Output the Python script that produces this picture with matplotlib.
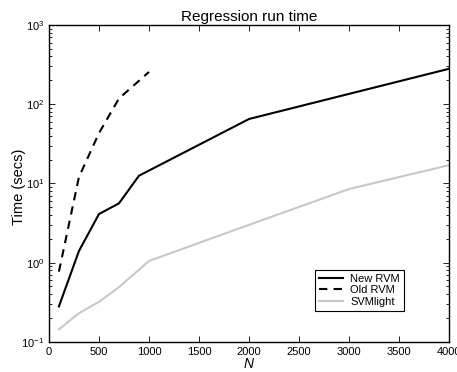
import matplotlib

matplotlib.use("Agg")
import matplotlib.pyplot as plt  # noqa: E402
from matplotlib.ticker import LogLocator, NullFormatter, MultipleLocator  # noqa: E402

plt.rcParams["font.family"] = ["Liberation Sans", "DejaVu Sans"]
plt.rcParams["mathtext.fontset"] = "custom"
plt.rcParams["mathtext.rm"] = "Liberation Sans"
plt.rcParams["mathtext.it"] = "Liberation Sans:italic"

new_n = [100, 300, 500, 700, 900, 2000, 4000]
new_t = [0.28, 1.4, 4.1, 5.6, 12.5, 65, 280]

old_n = [100, 300, 500, 700, 1000]
old_t = [0.77, 12, 43, 118, 255]

svm_n = [100, 300, 500, 700, 1000, 2000, 3000, 4000]
svm_t = [0.144, 0.23, 0.32, 0.49, 1.05, 3.0, 8.5, 17]

fig = plt.figure(figsize=(4.57, 3.72), dpi=100)
ax = fig.add_axes([0.107, 0.081, 0.876, 0.852])

ax.plot(new_n, new_t, color="black", linewidth=1.5, label="New RVM")
ax.plot(old_n, old_t, color="black", linewidth=1.5, linestyle=(0, (4, 3)), label="Old RVM")
ax.plot(svm_n, svm_t, color="#c8c8c8", linewidth=1.5, label="SVMlight")

ax.set_yscale("log")
ax.set_xlim(0, 4000)
ax.set_ylim(0.1, 1000)
ax.xaxis.set_major_locator(MultipleLocator(500))
ax.yaxis.set_major_locator(LogLocator(base=10))
ax.yaxis.set_minor_locator(LogLocator(base=10, subs=range(2, 10)))
ax.yaxis.set_minor_formatter(NullFormatter())

ax.tick_params(which="both", direction="in", top=True, right=True, labelsize=8, width=0.6)
ax.tick_params(which="major", length=4)
ax.tick_params(which="minor", length=2)
for s in ax.spines.values():
    s.set_linewidth(1.0)

ax.set_title("Regression run time", fontsize=11, pad=3)
ax.set_xlabel("$N$", fontsize=10, labelpad=0)
ax.set_ylabel("Time (secs)", fontsize=10.5)
ax.yaxis.set_label_coords(-0.058, 0.49)

leg = ax.legend(loc="lower left", bbox_to_anchor=(0.665, 0.098), fontsize=8,
                frameon=True, fancybox=False, edgecolor="black", framealpha=1,
                handlelength=2.2, borderpad=0.35, labelspacing=0.15, handletextpad=0.6,
                borderaxespad=0)
leg.get_frame().set_linewidth(0.8)

fig.savefig("out.png", dpi=100)
